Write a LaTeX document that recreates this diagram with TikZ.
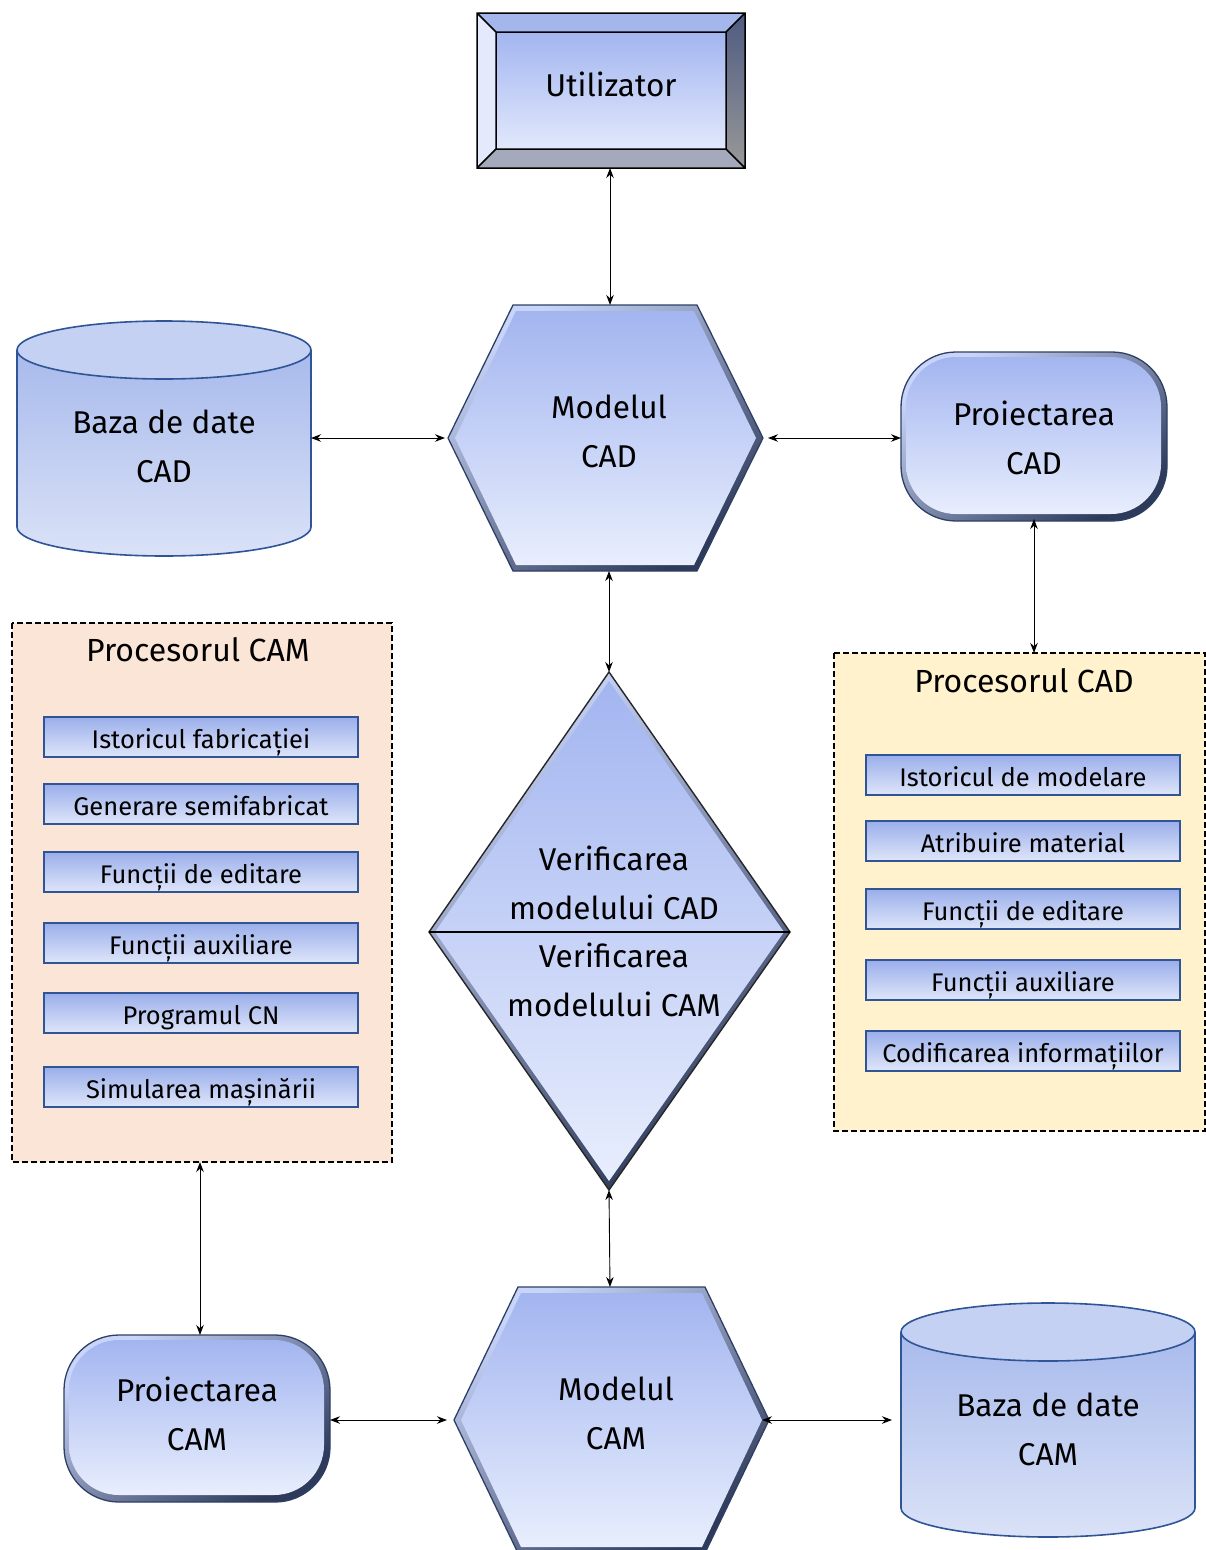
\documentclass[tikz,border=0pt]{standalone}
\usepackage{fontspec}
\setmainfont{Fira Sans}
\usetikzlibrary{arrows.meta}
\definecolor{gtop}{HTML}{A3B5F0}
\definecolor{gbot}{HTML}{E8EEFD}
\definecolor{bevl}{HTML}{C9D5F8}
\definecolor{bevd}{HTML}{2E3A5A}
\definecolor{edge}{HTML}{2E3F66}
\definecolor{itb}{HTML}{2F5597}
\definecolor{itt}{HTML}{9AAEEA}
\definecolor{itbot}{HTML}{DFE6FA}
\definecolor{camfr}{HTML}{FBE5D6}
\definecolor{cadfr}{HTML}{FFF2CC}
\definecolor{cyltop}{HTML}{C4D1F2}
\definecolor{cylb1}{HTML}{A8BAEC}
\definecolor{cylb2}{HTML}{DAE2F7}
\newcommand\itembox[3]{\node[item] (#1) at (#2) {};\node[itemtxt, anchor=base] at ([yshift=-11.5pt]#1.center) {#3};}
\begin{document}
\begin{tikzpicture}[x=1pt,y=-1pt,
  conn/.style={{Stealth[length=10pt,width=7.5pt]}-{Stealth[length=10pt,width=7.5pt]}, line width=0.9pt},
  lbl/.style={font=\fontsize{31.5}{49}\selectfont, align=center, inner sep=0},
  ttl/.style={font=\fontsize{32}{36}\selectfont, inner sep=0},
  item/.style={draw=itb, line width=1.6pt, top color=itt, bottom color=itbot, minimum width=314, minimum height=40, inner sep=0},
  itemtxt/.style={font=\fontsize{25.5}{28}\selectfont, inner sep=0},
  ghost/.style={inner sep=0, outer sep=0},
  outerbev/.style={top color=bevl, bottom color=bevd, shading angle=35, draw=edge, line width=1.3pt},
  innerface/.style={top color=gtop, bottom color=gbot},
  cyl/.style={draw=itb, line width=1.6pt},
  frame/.style={draw=black, line width=1.4pt, dash pattern=on 6pt off 3pt}
]
\useasboundingbox (0,0) rectangle (1206,1550);
\clip (0,0) rectangle (1206,1550);

% ---------- Utilizator ----------
\fill[top color=gtop, bottom color=gbot!90!gtop] (496,32) rectangle (726,149);
\fill[fill=itt!90!white] (477,13) -- (745,13) -- (726,32) -- (496,32) -- cycle;
\fill[fill=bevl!50!white] (477,13) -- (496,32) -- (496,149) -- (477,168) -- cycle;
\shade[top color=black!10!bevd!70!gtop, bottom color=gray!80!white] (745,13) -- (745,168) -- (726,149) -- (726,32) -- cycle;
\fill[fill=gray!50!bevl] (477,168) -- (496,149) -- (726,149) -- (745,168) -- cycle;
\draw[line width=1.5pt] (477,13) rectangle (745,168) (496,32) rectangle (726,149)
  (477,13) -- (496,32) (745,13) -- (726,32) (477,168) -- (496,149) (745,168) -- (726,149);
\node[ghost, minimum width=268, minimum height=155] (user) at (611,90.5) {};
\node[lbl] at (611,84) {Utilizator};

% ---------- Modelul CAD hexagon ----------
\path[outerbev] (513,305) -- (697,305) -- (763,438) -- (697,571) -- (513,571) -- (448,438) -- cycle;
\path[innerface] (516,311) -- (694,311) -- (756,438) -- (694,565) -- (516,565) -- (455,438) -- cycle;
\node[ghost, minimum width=315, minimum height=266] (mcad) at (605.5,438) {};
\node[lbl] at (609,431) {Modelul\\CAD};

% ---------- Baza de date CAD ----------
\shade[top color=cylb1, bottom color=cylb2, cyl] (17,350) -- (17,527) arc[start angle=180, end angle=0, x radius=147, y radius=29] -- (311,350);
\draw[cyl, fill=cyltop] (164,350) ellipse [x radius=147, y radius=29];
\node[ghost, minimum width=294, minimum height=236] (bcad) at (164,438) {};
\node[lbl] at (164,446) {Baza de date\\CAD};

% ---------- Proiectarea CAD ----------
\path[outerbev, rounded corners=55pt] (901,352) rectangle (1167,521);
\path[innerface, rounded corners=50pt] (906,357) rectangle (1161,514);
\node[ghost, minimum width=266, minimum height=169] (pcad) at (1034,436.5) {};
\node[lbl] at (1034,438) {Proiectarea\\CAD};

% ---------- Procesorul CAD frame ----------
\path[frame, fill=cadfr] (834,653) rectangle (1205,1131);
\node[ghost, minimum width=371, minimum height=478] (cadfr) at (1019.5,892) {};
\node[ttl] at (1024,681) {Procesorul CAD};
\itembox{c1}{1023,775}{Istoricul de modelare}
\itembox{c2}{1023,841}{Atribuire material}
\itembox{c3}{1023,909}{Funcții de editare}
\itembox{c4}{1023,980}{Funcții auxiliare}
\itembox{c5}{1023,1051}{Codificarea informațiilor}

% ---------- Procesorul CAM frame ----------
\path[frame, fill=camfr] (12,623) rectangle (392,1162);
\node[ghost, minimum width=380, minimum height=539] (camfr) at (202,892.5) {};
\node[ttl] at (198,650) {Procesorul CAM};
\itembox{m1}{201,737}{Istoricul fabricației}
\itembox{m2}{201,804}{Generare semifabricat}
\itembox{m3}{201,872}{Funcții de editare}
\itembox{m4}{201,943}{Funcții auxiliare}
\itembox{m5}{201,1013}{Programul CN}
\itembox{m6}{201,1087}{Simularea mașinării}

% ---------- Verificarea diamond ----------
\path[top color=bevl, bottom color=bevd, shading angle=35, draw=black!85, line width=1.4pt] (609,672) -- (790,932) -- (609,1190) -- (429,932) -- cycle;
\path[innerface] (609,681) -- (784,932) -- (609,1181) -- (435,932) -- cycle;
\draw[line width=2pt] (429,932) -- (790,932);
\node[ghost, minimum width=361, minimum height=518] (ver) at (609,931) {};
\node[lbl] at (614,883) {Verificarea\\modelului CAD};
\node[lbl] at (614,980) {Verificarea\\modelului CAM};

% ---------- Modelul CAM hexagon ----------
\path[outerbev] (518,1287) -- (705,1287) -- (769,1420) -- (705,1553) -- (518,1553) -- (454,1420) -- cycle;
\path[innerface] (521,1293) -- (702,1293) -- (762,1420) -- (702,1547) -- (521,1547) -- (461,1420) -- cycle;
\node[ghost, minimum width=315, minimum height=266] (mcam) at (611.5,1420) {};
\node[lbl] at (616,1413) {Modelul\\CAM};

% ---------- Proiectarea CAM ----------
\path[outerbev, rounded corners=55pt] (64,1335) rectangle (330,1502);
\path[innerface, rounded corners=50pt] (69,1340) rectangle (324,1495);
\node[ghost, minimum width=266, minimum height=167] (pcam) at (197,1418.5) {};
\node[lbl] at (197,1414) {Proiectarea\\CAM};

% ---------- Baza de date CAM ----------
\shade[top color=cylb1, bottom color=cylb2, cyl] (901,1332) -- (901,1508) arc[start angle=180, end angle=0, x radius=147, y radius=29] -- (1195,1332);
\draw[cyl, fill=cyltop] (1048,1332) ellipse [x radius=147, y radius=29];
\node[ghost, minimum width=294, minimum height=234] (bcam) at (1048,1420) {};
\node[lbl] at (1048,1429) {Baza de date\\CAM};

% ---------- connectors ----------
\draw[conn] (user.south -| mcad.north) ++(4.5,0) coordinate (u1) -- (u1 |- mcad.north);
\draw[conn] (bcad.east) -- ([xshift=-3pt]mcad.west);
\draw[conn] ([xshift=5pt]mcad.east) -- (pcad.west |- mcad.east);
\draw[conn] ([yshift=2pt]pcad.south) -- (pcad.south |- cadfr.north);
\draw[conn] ([xshift=3.5pt]mcad.south) -- (ver.north);
\draw[conn] (ver.south) -- ([xshift=-1.5pt]mcam.north);
\draw[conn] (camfr.south) ++(-2,0) coordinate (c0) -- (c0 |- pcam.north);
\draw[conn] (pcam.east |- mcam.west) -- ([xshift=-7pt]mcam.west);
\draw[conn] ([xshift=-7pt]mcam.east) -- ([xshift=-9pt]bcam.west);
\end{tikzpicture}
\end{document}
